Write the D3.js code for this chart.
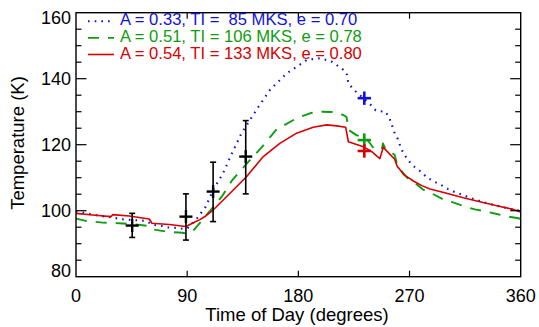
<!DOCTYPE html>
<html>
<head>
<meta charset="utf-8">
<script src="https://cdn.jsdelivr.net/npm/d3@7"></script>
<style>
  body { margin: 0; background: #fff; }
  text { font-family: "Liberation Sans", Arial, Helvetica, sans-serif; }
</style>
</head>
<body>
<script>
const WIDTH = 539;
const HEIGHT = 327;

// model curves, time of day (deg) vs temperature (K)
const lowDeg = [0, 7, 14, 20, 29, 37, 53, 57, 62, 68, 75, 81, 87, 90, 97, 101, 105, 111, 119, 125, 134, 146, 157, 170.5, 187, 197.5, 207, 216, 219, 220.5, 224.5, 238, 242.6, 248.8, 250.7, 254, 258, 261, 263, 266, 270, 274, 280, 284, 290, 295.5, 301, 307, 313, 319, 325, 331, 337, 344, 350, 356, 360];
const lowT = [99.9, 99.3, 98.8, 98.4, 98.0, 97.4, 97.0, 96.9, 95.7, 95.5, 94.9, 94.8, 94.5, 94.6, 97.2, 99.2, 101.2, 106.3, 111.3, 116.4, 123.5, 130.5, 136.6, 141.6, 145.7, 146.2, 145.2, 142.8, 141.8, 138.6, 136.8, 132.3, 130.4, 130.0, 130.0, 127.8, 123.5, 121.4, 118.9, 116.9, 114.8, 113.3, 111.6, 110.1, 108.8, 107.8, 106.6, 105.6, 104.8, 103.9, 103.2, 102.5, 101.9, 101.2, 100.7, 100.2, 100.0];

const midDeg = [0, 8, 21.6, 35, 47, 58, 61, 74, 86, 89, 93, 96, 101, 109, 118.5, 126.5, 139.5, 150.8, 162.5, 178.6, 190, 199, 208, 216.4, 219, 220.5, 227, 235, 241, 247.5, 248.5, 249.5, 258, 260, 261, 267.7, 273, 281, 286.6, 297, 304, 315, 323, 332.5, 340.6, 350, 358, 360];
const midT = [97.6, 96.9, 96.4, 96.2, 95.9, 95.4, 94.4, 93.6, 93.3, 93.1, 93.6, 94.4, 96.6, 100.2, 104.5, 109.3, 114.8, 119.4, 124.7, 128.0, 129.6, 130.0, 129.9, 129.0, 128.4, 124.5, 122.9, 121.9, 118.9, 118.5, 120.4, 119.4, 116.9, 113.8, 113.3, 110.1, 108.8, 106.4, 105.5, 103.5, 102.7, 101.2, 100.4, 99.7, 99.0, 98.2, 97.7, 97.5];

const highDeg = [0, 13.5, 28.3, 29.7, 43, 59.3, 61.5, 75.5, 89, 97, 100.4, 105, 111, 124.7, 138, 151.6, 165, 178.6, 192, 203, 211, 218.3, 220.5, 232.6, 239.4, 246, 248.8, 258, 260, 262, 265, 270, 273, 280, 286.6, 300, 313.5, 327, 340.6, 354, 360];
const highT = [99.2, 98.7, 98.2, 98.8, 98.4, 97.5, 96.2, 95.8, 95.2, 96.7, 97.3, 98.4, 100.2, 105.3, 110.3, 116.4, 120.4, 123.5, 125.3, 126.0, 125.7, 125.3, 120.9, 119.4, 117.9, 115.8, 119.2, 115.6, 113.5, 112.6, 111.0, 109.8, 109.0, 107.6, 106.6, 105.3, 103.9, 102.7, 101.5, 100.4, 99.6];

// observations with error bars
const obsDeg = [45.5, 89, 111, 137.4];
const obsT = [95.5, 98.2, 105.8, 116.4];
const obsLow = [91.9, 91.1, 96.7, 105.1];
const obsHigh = [99.2, 105.1, 114.7, 127.3];

// model values at the late-afternoon observation
const markDeg = [233.4, 233.4, 233.4];
const markT = [134.1, 121.4, 118.1];

const seriesColors = ['#1212d8', '#109c10', '#d80000'];
const legendLabels = [
  'A = 0.33, TI =  85 MKS, e = 0.70',
  'A = 0.51, TI = 106 MKS, e = 0.78',
  'A = 0.54, TI = 133 MKS, e = 0.80',
];

const xTicks = [0, 90, 180, 270, 360];
const yTicks = [80, 100, 120, 140, 160];
const yMinor = d3.range(80, 161, 5);

const x = d3.scaleLinear().domain([0, 360]).range([76, 520.7]);
const y = d3.scaleLinear().domain([80, 160]).range([276.7, 12.7]);

const svg = d3.select('body')
  .append('svg')
  .attr('width', WIDTH)
  .attr('height', HEIGHT);

// curves
const line = d3.line()
  .x(d => x(d[0]))
  .y(d => y(d[1]));

const curves = [
  {deg: lowDeg, t: lowT, dash: '1.6,5.1', width: 2.1},
  {deg: midDeg, t: midT, dash: '11,9', width: 1.9},
  {deg: highDeg, t: highT, dash: null, width: 1.6},
];

svg.append('defs').append('clipPath').attr('id', 'plotclip')
  .append('rect')
  .attr('x', x(0)).attr('y', y(160))
  .attr('width', x(360) - x(0)).attr('height', y(80) - y(160));

const plot = svg.append('g').attr('clip-path', 'url(#plotclip)');

curves.forEach((c, i) => {
  plot.append('path')
    .attr('d', line(d3.zip(c.deg, c.t)))
    .attr('fill', 'none')
    .attr('stroke', seriesColors[i])
    .attr('stroke-width', c.width)
    .attr('stroke-dasharray', c.dash)
    .attr('stroke-linejoin', 'round');
});

// error bars
const obs = obsDeg.map((d, i) => ({d, t: obsT[i], lo: obsLow[i], hi: obsHigh[i]}));
const eb = svg.append('g').attr('stroke', '#000');
eb.selectAll('line.bar').data(obs).enter().append('line')
  .attr('x1', o => x(o.d)).attr('x2', o => x(o.d))
  .attr('y1', o => y(o.lo)).attr('y2', o => y(o.hi))
  .attr('stroke-width', 1.6);
eb.selectAll('line.caplo').data(obs).enter().append('line')
  .attr('x1', o => x(o.d) - 3).attr('x2', o => x(o.d) + 3)
  .attr('y1', o => y(o.lo)).attr('y2', o => y(o.lo))
  .attr('stroke-width', 1.6);
eb.selectAll('line.caphi').data(obs).enter().append('line')
  .attr('x1', o => x(o.d) - 3).attr('x2', o => x(o.d) + 3)
  .attr('y1', o => y(o.hi)).attr('y2', o => y(o.hi))
  .attr('stroke-width', 1.6);

function cross(g, cx, cy, r, color, w) {
  g.append('line').attr('x1', cx - r).attr('x2', cx + r).attr('y1', cy).attr('y2', cy)
    .attr('stroke', color).attr('stroke-width', w);
  g.append('line').attr('x1', cx).attr('x2', cx).attr('y1', cy - r).attr('y2', cy + r)
    .attr('stroke', color).attr('stroke-width', w);
}

obs.forEach(o => cross(svg, x(o.d), y(o.t), 6.5, '#000', 2.4));
markDeg.forEach((d, i) => cross(svg, x(d), y(markT[i]), 6.7, seriesColors[i], 2.6));

// frame
svg.append('rect')
  .attr('x', x(0)).attr('y', y(160))
  .attr('width', x(360) - x(0)).attr('height', y(80) - y(160))
  .attr('fill', 'none').attr('stroke', '#000').attr('stroke-width', 1.4);

// ticks pointing inward on all four sides
const ax = svg.append('g').attr('stroke', '#000').attr('stroke-width', 1.2);
xTicks.slice(1, -1).forEach(v => {
  ax.append('line').attr('x1', x(v)).attr('x2', x(v)).attr('y1', y(80)).attr('y2', y(80) - 6);
  ax.append('line').attr('x1', x(v)).attr('x2', x(v)).attr('y1', y(160)).attr('y2', y(160) + 6);
});
yMinor.slice(1, -1).forEach(v => {
  const len = v % 20 === 0 ? 10.5 : 5.5;
  ax.append('line').attr('x1', x(0)).attr('x2', x(0) + len).attr('y1', y(v)).attr('y2', y(v));
  ax.append('line').attr('x1', x(360)).attr('x2', x(360) - len).attr('y1', y(v)).attr('y2', y(v));
});

// tick labels
svg.selectAll('text.xt').data(xTicks).enter().append('text')
  .attr('x', d => x(d)).attr('y', 301.5)
  .attr('text-anchor', 'middle')
  .attr('font-size', 18)
  .text(d => d);

svg.selectAll('text.yt').data(yTicks).enter().append('text')
  .attr('x', 71).attr('y', d => Math.min(Math.max(y(d), 17.5), 270.8))
  .attr('dy', '0.35em')
  .attr('text-anchor', 'end')
  .attr('font-size', 18)
  .text(d => d);

// axis titles
svg.append('text')
  .attr('x', 297).attr('y', 320.5)
  .attr('text-anchor', 'middle')
  .attr('font-size', 18.5)
  .text('Time of Day (degrees)');

svg.append('text')
  .attr('transform', 'translate(24,143) rotate(-90)')
  .attr('text-anchor', 'middle')
  .attr('font-size', 18.5)
  .text('Temperature (K)');

// legend
const legend = svg.append('g');
legendLabels.forEach((label, i) => {
  const base = 25.3 + i * 16.6;
  legend.append('line')
    .attr('x1', 88).attr('x2', 114)
    .attr('y1', base - 4).attr('y2', base - 4)
    .attr('stroke', seriesColors[i])
    .attr('stroke-width', curves[i].width)
    .attr('stroke-dasharray', curves[i].dash);
  legend.append('text')
    .attr('x', 120).attr('y', base)
    .attr('fill', seriesColors[i])
    .attr('font-size', 16.6)
    .style('white-space', 'pre')
    .text(label);
});
</script>
</body>
</html>
